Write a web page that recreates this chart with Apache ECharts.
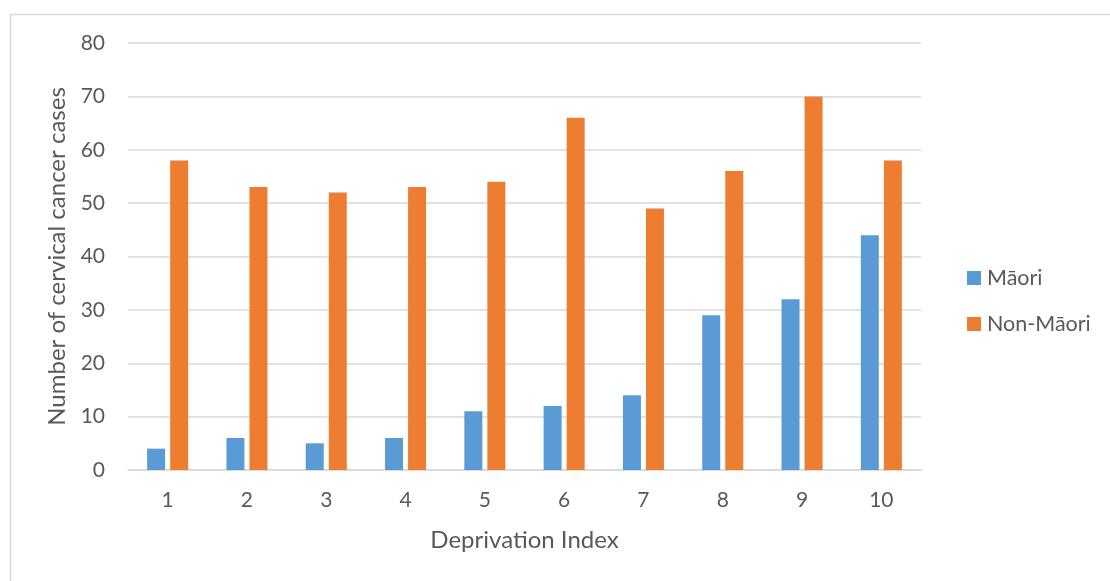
<!DOCTYPE html>
<html>
<head>
<meta charset="utf-8">
<script src="https://cdn.jsdelivr.net/npm/echarts@6/dist/echarts.min.js"></script>
<style>
  html, body { margin: 0; padding: 0; background: #fff; }
  #chart { width: 1110px; height: 581px; }
</style>
</head>
<body>
<div id="chart"></div>
<script>
// Deprivation index categories (1 = least deprived, 10 = most deprived)
const categories = ['1', '2', '3', '4', '5', '6', '7', '8', '9', '10'];
// Number of cervical cancer cases per group
const maoriCases = [4, 6, 5, 6, 11, 12, 14, 29, 32, 44];
const nonMaoriCases = [58, 53, 52, 53, 54, 66, 49, 56, 70, 58];
// Value axis range
const yMin = 0;
const yMax = 80;
const yStep = 10;

const fontFamily = 'Lato, "Open Sans", sans-serif';
const textColor = '#595959';
const gridColor = '#d9d9d9';

const chart = echarts.init(document.getElementById('chart'));
chart.setOption({
  animation: false,
  backgroundColor: '#ffffff',
  textStyle: { fontFamily: fontFamily, color: textColor },
  graphic: [{
    type: 'rect',
    left: 8, top: 12,
    shape: { width: 1120, height: 600 },
    style: { fill: 'none', stroke: '#d9d9d9', lineWidth: 1.5 },
    silent: true
  }],
  grid: { left: 128, right: 189, top: 43, bottom: 111, containLabel: false },
  legend: {
    orient: 'vertical',
    left: 962, top: 262,
    itemWidth: 14, itemHeight: 14, itemGap: 24,
    icon: 'rect',
    textStyle: { fontFamily: fontFamily, fontSize: 21.5, color: textColor, padding: [0, 0, 0, 1] },
    data: ['Māori', 'Non-Māori']
  },
  xAxis: {
    type: 'category',
    data: categories,
    name: 'Deprivation Index',
    nameLocation: 'middle',
    nameGap: 58,
    nameTextStyle: { fontFamily: fontFamily, fontSize: 24, color: textColor },
    axisLine: { lineStyle: { color: gridColor, width: 1.5 } },
    axisTick: { show: false },
    axisLabel: { fontFamily: fontFamily, fontSize: 21, color: textColor, margin: 20 }
  },
  yAxis: {
    type: 'value',
    min: yMin, max: yMax, interval: yStep,
    name: 'Number of cervical cancer cases',
    nameLocation: 'middle',
    nameGap: 55,
    nameTextStyle: { fontFamily: fontFamily, fontSize: 24, color: textColor },
    axisLine: { show: false },
    axisTick: { show: false },
    axisLabel: { fontFamily: fontFamily, fontSize: 21, color: textColor, margin: 23 },
    splitLine: { lineStyle: { color: gridColor, width: 1.5 } }
  },
  series: [
    {
      name: 'Māori',
      type: 'bar',
      data: maoriCases,
      barWidth: 18,
      barGap: '28%',
      itemStyle: { color: '#5B9BD5' }
    },
    {
      name: 'Non-Māori',
      type: 'bar',
      data: nonMaoriCases,
      barWidth: 18,
      itemStyle: { color: '#ED7D31' }
    }
  ]
});
</script>
</body>
</html>
